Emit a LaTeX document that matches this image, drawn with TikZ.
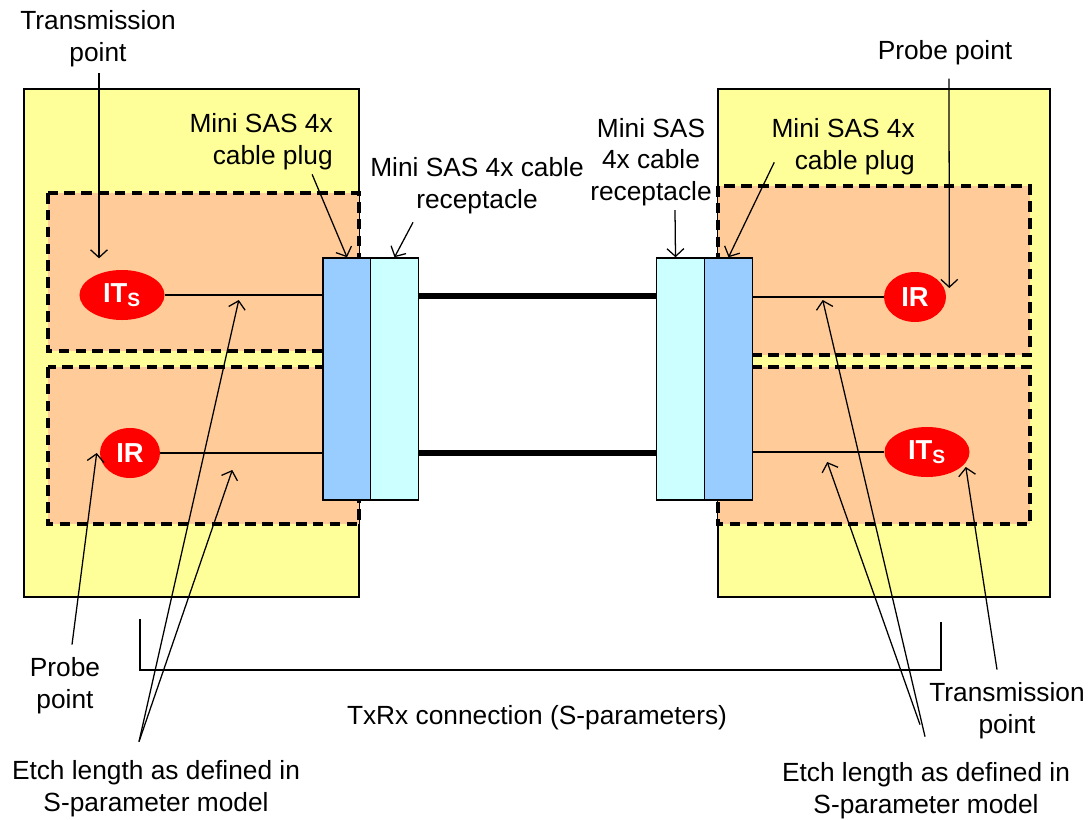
\documentclass[tikz,border=0pt]{standalone}
\usepackage{fontspec}
\setmainfont{Liberation Sans}
\usetikzlibrary{arrows.meta, positioning, calc, shapes.geometric}

\definecolor{boardyellow}{HTML}{FFFF99}
\definecolor{zoneorange}{HTML}{FFCC99}
\definecolor{plugblue}{HTML}{99CCFF}
\definecolor{recepcyan}{HTML}{CCFFFF}

\begin{document}
\begin{tikzpicture}[x=0.025cm, y=-0.025cm,
  font=\fontsize{18.7}{22.5}\selectfont,
  board/.style={draw, line width=1pt, fill=boardyellow},
  etchzone/.style={draw, line width=2.6pt, dash pattern=on 7.5pt off 4.5pt, fill=zoneorange},
  plug/.style={draw, line width=1pt, fill=plugblue, minimum width=1.2cm,
               minimum height=6.05cm, inner sep=0pt},
  recep/.style={plug, fill=recepcyan},
  probe/.style={ellipse, fill=red, text=white, inner sep=0pt, minimum height=1.25cm,
                font=\fontsize{19.5}{22.5}\selectfont\bfseries},
  lbl/.style={align=center, inner sep=0pt},
  cable/.style={line width=3.6pt},
  trace/.style={line width=0.9pt},
  ptr/.style={->, line width=0.9pt},
  >={Straight Barb[length=5.5pt,width=12pt]}]
\useasboundingbox (0,0) rectangle (1089,820);

% boards and etch zones
\draw[board] (24,89) rectangle (359,597);
\draw[board] (718,89) rectangle (1050,597);
\draw[etchzone] (48,193) rectangle (359,351);
\draw[etchzone] (48,367) rectangle (359,524);
\draw[etchzone] (718,186) rectangle (1030,355);
\draw[etchzone] (718,367) rectangle (1030,524);

% connectors
\node[plug]  (plugL) at (347,379) {};
\node[recep] (recL)  at (394.5,379) {};
\node[recep] (recR)  at (680.5,379) {};
\node[plug]  (plugR) at (728.5,379) {};

\node[probe, minimum width=2.125cm] (itsL) at (122,295) {IT\textsubscript{S}};
\node[probe, minimum width=1.5cm]   (irL)  at (130,453) {IR};
\node[probe, minimum width=1.55cm]  (irR)  at (915,297) {IR};
\node[probe, minimum width=2.125cm] (itsR) at (927,452) {IT\textsubscript{S}};

\draw[trace] (itsL) -- (itsL -| plugL.west);
\draw[trace] (irL) -- (irL -| plugL.west);
\draw[trace] (irR) -- (irR -| plugR.east);
\draw[trace] (itsR) -- (itsR -| plugR.east);
\draw[cable] (recL.east |- 0,296) -- (recR.west |- 0,296);
\draw[cable] (recL.east |- irL) -- (recR.west |- irL);

% labels
\node[lbl] (txL) at (98,39) {Transmission\\point};
\node[lbl, align=right, anchor=east] (plugLbl) at (333,142) {Mini SAS 4x\\cable plug};
\node[lbl] (recLbl) at (477,186) {Mini SAS 4x cable\\receptacle};
\node[lbl] (recRbl) at (651,162) {Mini SAS\\4x cable\\receptacle};
\node[lbl, align=right, anchor=east] (plugRbl) at (915,147) {Mini SAS 4x\\cable plug};
\node[lbl] (prR) at (945,53) {Probe point};
\node[lbl] (prL) at (65,686) {Probe\\point};
\node[lbl] (etchL) at (156,789) {Etch length as defined in\\S-parameter model};
\node[lbl] (txrx) at (537,718) {TxRx connection (S-parameters)};
\node[lbl] (txR) at (1007,711) {Transmission\\point};
\node[lbl] (etchR) at (926,791) {Etch length as defined in\\S-parameter model};

% pointers
\draw[ptr] ($(txL.south)+(1,6)$) -- ($(txL.south)+(1,191)$);
\draw[ptr] ($(plugLbl.south)+(51,4)$) -- (plugL.north);
\draw[ptr] ($(recLbl.south)+(-64,8)$) -- (recL.north);
\draw[ptr] ($(recRbl.south)+(24,4)$) -- ($(recR.north)+(-5,0)$);
\draw[ptr] ($(plugRbl.south west)+(3,-13)$) -- (plugR.north);
\draw[ptr] ($(prR.south)+(4,13)$) -- ($(irR.east)+(3,-9)$);
\draw[ptr] ($(prL.north)+(7,-13)$) -- ($(irL.west)+(-3,0)$);
\draw[ptr] ($(etchL.north)+(-17,-19)$) -- ($(itsL.east)+(74,5)$);
\draw[ptr] ($(etchL.north)+(-17,-19)$) -- ($(irL.east)+(72,17)$);
\draw[ptr] ($(etchR.north)+(-1,-26)$) -- ($(irR.west)+(-61,3)$);
\draw[ptr] ($(etchR.north)+(-6,-38)$) -- ($(itsR.west)+(-57,10)$);
\draw[ptr] ($(txR.north)+(-10,-13)$) -- ($(itsR.east)+(-4,15)$);

% TxRx bracket
\coordinate (brL) at (140,619);
\coordinate (brR) at (941,622);
\draw[trace] (brL) -- (brL |- 0,670) -- (brR |- 0,670) -- (brR);
\end{tikzpicture}
\end{document}
